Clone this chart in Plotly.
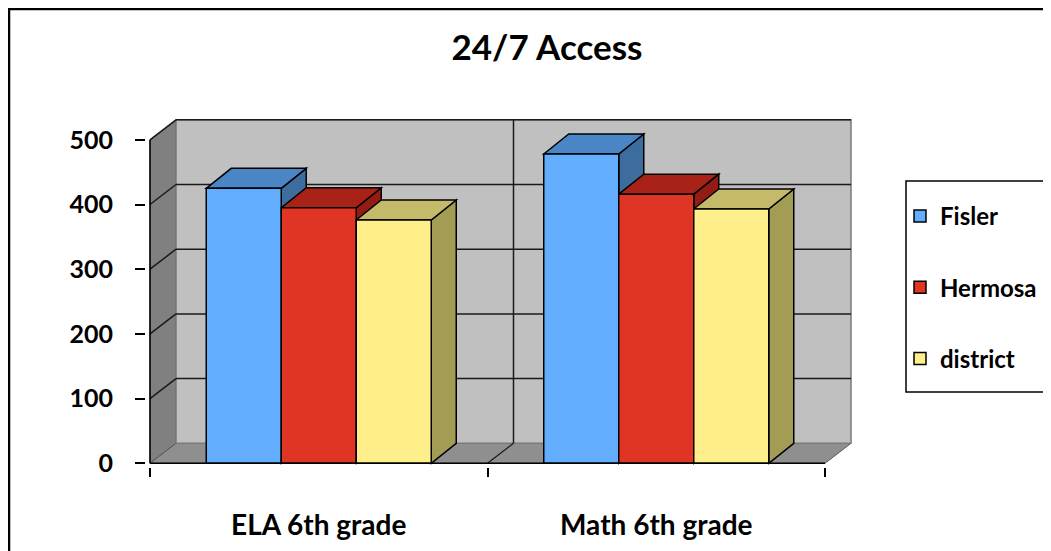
import plotly.graph_objects as go

# ---------------- data ----------------
categories = ["ELA 6th grade", "Math 6th grade"]
series_names = ["Fisler", "Hermosa", "district"]
fisler = [425, 478]
hermosa = [395, 416]
district = [376, 393]
y_ticks = [0, 100, 200, 300, 400, 500]
title_text = "24/7 Access"

# ---------------- styles ----------------
front_colors = ["#62ADFE", "#E03424", "#FEEF8A"]
top_colors = ["#4A86C5", "#A82218", "#C5B96A"]
side_colors = ["#3C6D9E", "#951C15", "#A39C55"]
FONT = "Lato"

# ---------------- geometry (pixel layout) ----------------
# the page body has an 8px margin, so the figure sits at (8, 8) in the window
OFF = 8
W, H = 1051 - OFF, 551 - OFF

def fx(px):  # window px -> figure px
    return px - OFF

ML, MT = fx(146), fx(118)
MR = W - fx(852)
MB = H - fx(467)
PW, PH = W - ML - MR, H - MT - MB
PX_PER_CAT = 337.5
PX_PER_VAL = 0.647
X0_PX = fx(150) - ML
Y0_PX = fx(463.3) - MT
x_range = [-0.5 - X0_PX / PX_PER_CAT, -0.5 + (PW - X0_PX) / PX_PER_CAT]
y_range = [-(PH - Y0_PX) / PX_PER_VAL, Y0_PX / PX_PER_VAL]

WALL_DX = 26 / PX_PER_CAT
WALL_DY = 20 / PX_PER_VAL
BAR_DX = 25 / PX_PER_CAT
BAR_DY = 20 / PX_PER_VAL

n_cat = len(categories)
xl, xr = -0.5, n_cat - 0.5
ymax = y_ticks[-1]

def px2paper_x(px):
    return (fx(px) - ML) / PW

def px2paper_y(px):
    return (H - MB - fx(px)) / PH

shapes = []

def path(pts):
    return "M" + " L".join(f"{x},{y}" for x, y in pts) + " Z"

# left wall
shapes.append(dict(type="path", xref="x", yref="y", layer="below",
                   path=path([(xl, 0), (xl + WALL_DX, WALL_DY), (xl + WALL_DX, ymax + WALL_DY), (xl, ymax)]),
                   fillcolor="#808080", line=dict(color="#555555", width=1)))
# floor
shapes.append(dict(type="path", xref="x", yref="y", layer="below",
                   path=path([(xl, 0), (xl + WALL_DX, WALL_DY), (xr + WALL_DX, WALL_DY), (xr, 0)]),
                   fillcolor="#8F8F8F", line=dict(color="#555555", width=1)))
# back wall
shapes.append(dict(type="rect", xref="x", yref="y", layer="below",
                   x0=xl + WALL_DX, x1=xr + WALL_DX, y0=WALL_DY, y1=ymax + WALL_DY,
                   fillcolor="#C0C0C0", line=dict(color="#7A7A7A", width=1.5)))
# grid lines on back wall and side wall
for v in y_ticks[1:]:
    shapes.append(dict(type="line", xref="x", yref="y", layer="below",
                       x0=xl + WALL_DX, x1=xr + WALL_DX, y0=v + WALL_DY, y1=v + WALL_DY,
                       line=dict(color="#1a1a1a", width=1.5)))
    shapes.append(dict(type="line", xref="x", yref="y", layer="below",
                       x0=xl, x1=xl + WALL_DX, y0=v, y1=v + WALL_DY,
                       line=dict(color="#1a1a1a", width=1.5)))
# category dividers (back wall vertical + floor diagonal)
for b in range(1, n_cat):
    xb = b - 0.5
    shapes.append(dict(type="line", xref="x", yref="y", layer="below",
                       x0=xb + WALL_DX, x1=xb + WALL_DX, y0=WALL_DY, y1=ymax + WALL_DY,
                       line=dict(color="#1a1a1a", width=1.5)))
    shapes.append(dict(type="line", xref="x", yref="y", layer="below",
                       x0=xb, x1=xb + WALL_DX, y0=0, y1=WALL_DY,
                       line=dict(color="#1a1a1a", width=1.2)))

# 3D bar tops and sides
values = [fisler, hermosa, district]
n_ser = len(values)
bargap = 1 / 3
bw = (1 - bargap) / n_ser
for i in range(n_cat):
    for j in range(n_ser):
        v = values[j][i]
        x0 = i - (1 - bargap) / 2 + j * bw
        x1 = x0 + bw
        shapes.append(dict(type="path", xref="x", yref="y", layer="below",
                           path=path([(x1, 0), (x1 + BAR_DX, BAR_DY), (x1 + BAR_DX, v + BAR_DY), (x1, v)]),
                           fillcolor=side_colors[j], line=dict(color="black", width=1.5)))
        shapes.append(dict(type="path", xref="x", yref="y", layer="below",
                           path=path([(x0, v), (x0 + BAR_DX, v + BAR_DY), (x1 + BAR_DX, v + BAR_DY), (x1, v)]),
                           fillcolor=top_colors[j], line=dict(color="black", width=1.5)))

# front axis lines
shapes.append(dict(type="line", xref="x", yref="y", layer="above",
                   x0=xl, x1=xl, y0=0, y1=ymax, line=dict(color="black", width=1.5)))
shapes.append(dict(type="line", xref="x", yref="y", layer="above",
                   x0=xl, x1=xr, y0=0, y1=0, line=dict(color="black", width=1.5)))

# legend box
shapes.append(dict(type="rect", xref="paper", yref="paper", layer="below",
                   x0=px2paper_x(906), x1=px2paper_x(1075), y0=px2paper_y(392), y1=px2paper_y(181),
                   fillcolor="white", line=dict(color="black", width=1.5)))
# outer chart border
shapes.append(dict(type="rect", xref="paper", yref="paper", layer="above",
                   x0=px2paper_x(9), x1=px2paper_x(1080), y0=px2paper_y(580), y1=px2paper_y(9),
                   fillcolor="rgba(0,0,0,0)", line=dict(color="black", width=2.5)))

fig = go.Figure()
for j in range(n_ser):
    fig.add_trace(go.Bar(
        x=categories, y=values[j], name=series_names[j],
        legendgroup=series_names[j],
        marker=dict(color=front_colors[j], line=dict(color="black", width=1.5)),
        hoverinfo="x+y+name",
    ))

fig.update_layout(
    width=W, height=H,
    margin=dict(l=ML, r=MR, t=MT, b=MB, autoexpand=False),
    paper_bgcolor="white", plot_bgcolor="rgba(0,0,0,0)",
    barmode="group", bargap=bargap, bargroupgap=0,
    title=dict(text=title_text, x=fx(547) / W, xanchor="center",
               y=1 - fx(48) / H, yanchor="middle", yref="container",
               font=dict(family=FONT, size=35, color="black", weight="bold")),
    showlegend=True,
    legend=dict(x=px2paper_x(900), y=px2paper_y(194), xanchor="left", yanchor="top",
                bgcolor="rgba(0,0,0,0)", borderwidth=0,
                traceorder="grouped", tracegroupgap=37,
                font=dict(family=FONT, size=24, color="black", weight="bold")),
    xaxis=dict(type="category", range=x_range, showgrid=False, zeroline=False, showline=False,
               ticks="outside", tickson="boundaries", ticklen=9, tickwidth=1.5, tickcolor="black",
               ticklabelstandoff=39,
               tickfont=dict(family=FONT, size=28, color="black", weight="bold")),
    yaxis=dict(range=y_range, tickvals=y_ticks, showgrid=False, zeroline=False, showline=False,
               ticks="outside", ticklen=10, tickwidth=1.5, tickcolor="black",
               ticklabelstandoff=17,
               tickfont=dict(family=FONT, size=25, color="black", weight="bold")),
    shapes=shapes,
)

fig.write_html("out.html")
